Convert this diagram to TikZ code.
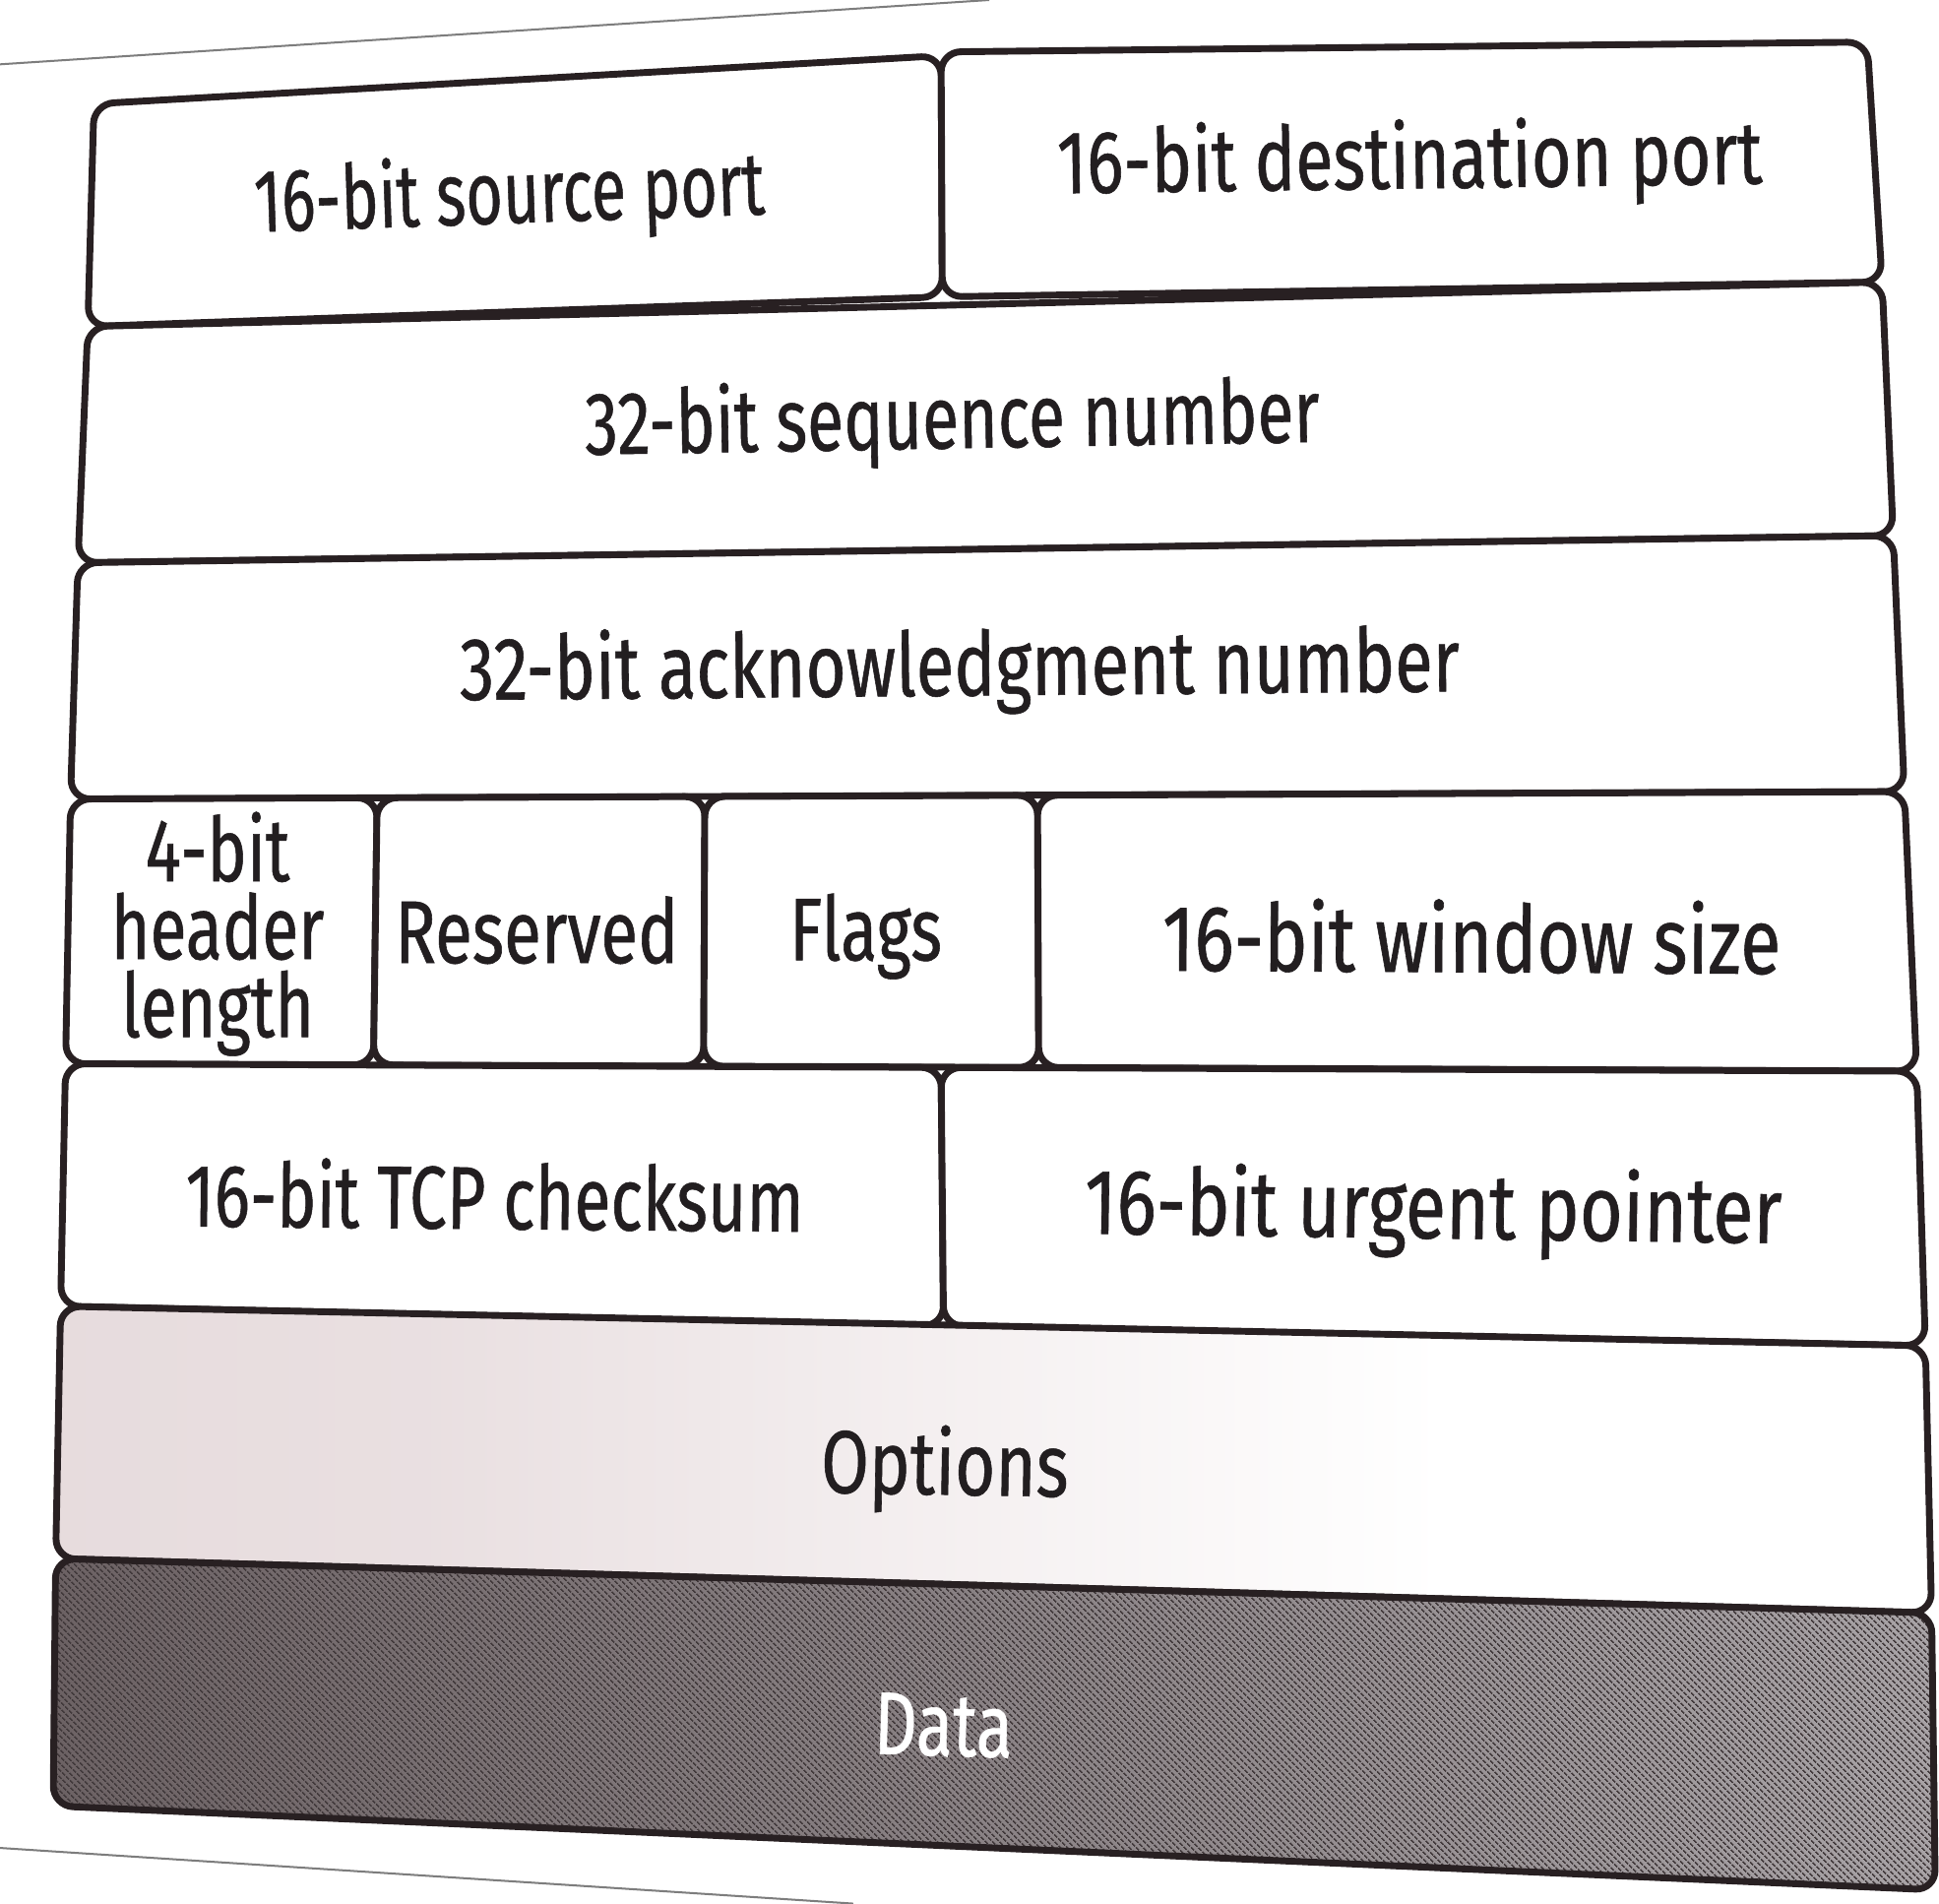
\documentclass[tikz,border=0pt]{standalone}
\usepackage{fontspec}
\setmainfont{Fira Sans}[FakeStretch=0.75,FakeBold=0.6]
\usetikzlibrary{calc,patterns.meta}

\definecolor{ink}{RGB}{40,32,34}
\definecolor{textc}{RGB}{34,30,32}
\definecolor{pageline}{RGB}{125,125,125}
\definecolor{optshade}{RGB}{224,210,212}
\definecolor{datadark}{RGB}{108,98,100}
\definecolor{datalight}{RGB}{168,163,166}
\definecolor{hatchc}{RGB}{66,58,60}

\pgfdeclarehorizontalshading{optfade}{100bp}{%
  color(0bp)=(optshade); color(35bp)=(optshade!70!white);
  color(62bp)=(white); color(100bp)=(white)}

\tikzset{
  field/.style={draw=ink, line width=5.5pt, line join=round},
  lbl/.style={text=textc, inner sep=0pt, align=center,
    font=\fontsize{72}{63}\selectfont},
}

% a rounded quadrilateral through four named corners (TL, TR, BR, BL)
\newcommand\quadbox[5][]{%
  \path[rounded corners=16pt,#1] ($(#2)!0.5!(#3)$) -- (#3) -- (#4) -- (#5) -- (#2) -- cycle;}

\begin{document}
\begin{tikzpicture}[x=1pt,y=-1pt]
  \useasboundingbox[fill=white] (0,0) rectangle (1568,1539);

  % page edges
  \draw[pageline, line width=1.6pt] (0,52) -- (800,0);
  \draw[pageline, line width=1.6pt] (0,1494) -- (690,1539);

  % corner grid of the header rows
  \coordinate (a0) at (76,84);
  \coordinate (a1) at (761,45);
  \coordinate (a1r) at (761,42);
  \coordinate (a2) at (1510,34);
  \coordinate (b0) at (71,264);
  \coordinate (b1) at (762,240);
  \coordinate (b2) at (1522,228);
  \coordinate (c0) at (63,455);
  \coordinate (c2) at (1531,433);
  \coordinate (d0) at (57,646);
  \coordinate (d1) at (305,645);
  \coordinate (d2) at (570,644);
  \coordinate (d3) at (839,643);
  \coordinate (d4) at (1540,640);
  \coordinate (e0) at (53,860);
  \coordinate (e1) at (302,861);
  \coordinate (e2) at (569,862);
  \coordinate (e3) at (840,863);
  \coordinate (e5) at (761,863);
  \coordinate (e4) at (1550,866);
  \coordinate (f0) at (49,1056);
  \coordinate (f1) at (763,1072);
  \coordinate (f2) at (1557,1088);
  \coordinate (g0) at (45,1260);
  \coordinate (g2) at (1562,1304);
  \coordinate (h0) at (43,1460);
  \coordinate (h2) at (1565,1528);

  % row 1
  \quadbox[field,fill=white]{a0}{a1}{b1}{b0}
  \quadbox[field,fill=white]{a1r}{a2}{b2}{b1}
  % row 2
  \quadbox[field,fill=white]{b0}{b2}{c2}{c0}
  % row 3
  \quadbox[field,fill=white]{c0}{c2}{d4}{d0}
  % row 4
  \quadbox[field,fill=white]{d0}{d1}{e1}{e0}
  \quadbox[field,fill=white]{d1}{d2}{e2}{e1}
  \quadbox[field,fill=white]{d2}{d3}{e3}{e2}
  \quadbox[field,fill=white]{d3}{d4}{e4}{e3}
  % row 5
  \quadbox[field,fill=white]{e0}{e5}{f1}{f0}
  \quadbox[field,fill=white]{e5}{e4}{f2}{f1}
  % options
  \quadbox[shading=optfade]{f0}{f2}{g2}{g0}
  \quadbox[field]{f0}{f2}{g2}{g0}
  % data
  \quadbox[left color=datadark,right color=datalight]{g0}{g2}{h2}{h0}
  \quadbox[pattern={Lines[angle=-45,distance=4pt,line width=1.4pt]},pattern color=hatchc]{g0}{g2}{h2}{h0}
  \quadbox[field]{g0}{g2}{h2}{h0}

  % labels
  \node[lbl, rotate=2, xscale=0.95]       (src)   at (412,160)  {16-bit source port};
  \node[lbl, rotate=0.8, xscale=1.03]     (dst)   at (1140,132) {16-bit destination port};
  \node[lbl, rotate=1]                    (seq)   at (770,342)  {32-bit sequence number};
  \node[lbl, rotate=0.5, xscale=1.04]     (ack)   at (776,542)  {32-bit acknowledgment number};
  \node[lbl]                              (hlen)  at (176,755)  {4-bit\\header\\length};
  \node[lbl, xscale=1.02]                 (rsv)   at (434,752)  {Reserved};
  \node[lbl]                              (flags) at (700,757)  {Flags};
  \node[lbl, rotate=-0.3, xscale=1.11, yscale=1.05] (win) at (1190,757) {16-bit window size};
  \node[lbl, rotate=-0.5]                 (csum)  at (400,966)  {16-bit TCP checksum};
  \node[lbl, rotate=-0.8, xscale=1.11, yscale=1.04] (urg) at (1159,980) {16-bit urgent pointer};
  \node[lbl, rotate=-1, xscale=1.04]      (opt)   at (764,1188) {Options};
  \node[lbl, rotate=-1.5, text=white]     (data)  at (763,1395) {Data};
\end{tikzpicture}
\end{document}
